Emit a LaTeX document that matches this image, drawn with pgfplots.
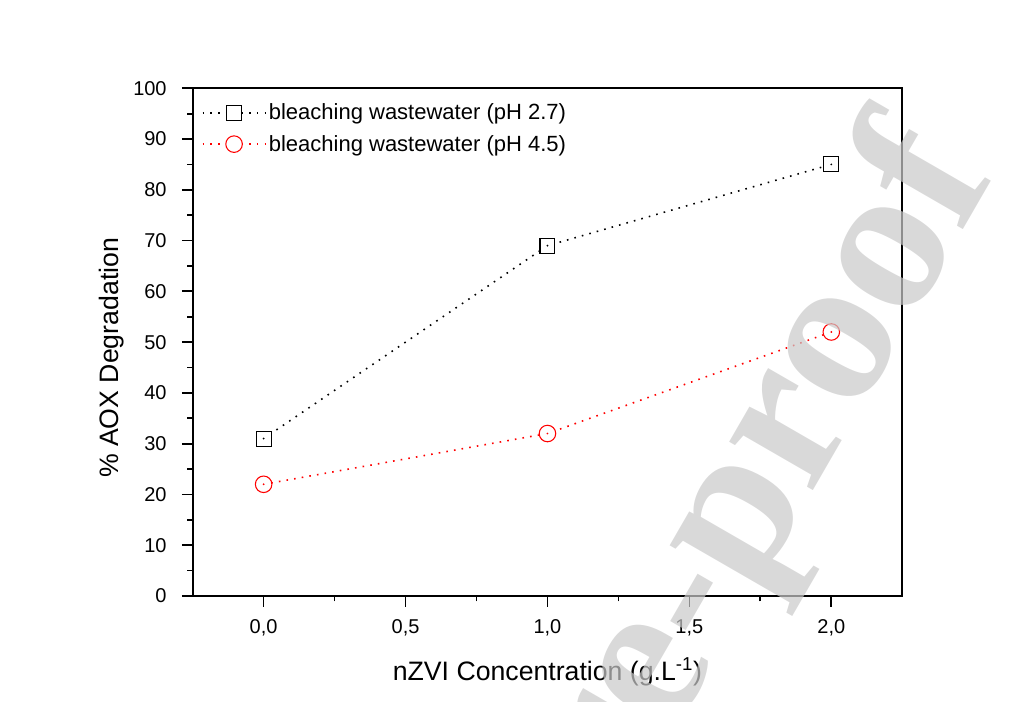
\documentclass[border=0pt]{standalone}
\usepackage{pgfplots}
\pgfplotsset{compat=1.18}
\usepackage{fontspec}
\setmainfont{Liberation Sans}
\newfontfamily\wmfont{Liberation Serif}
\definecolor{wm}{RGB}{201,201,201}
\begin{document}
\begin{tikzpicture}
\useasboundingbox (0,0) rectangle (774pt,526.5pt);
\begin{axis}[
  scale only axis,
  width=532.2pt, height=380.8pt,
  at={(144.5pt,79.5pt)}, anchor=south west,
  xmin=-0.25, xmax=2.25, ymin=0, ymax=100,
  xtick={0,0.5,1,1.5,2}, minor x tick num=1,
  ytick={0,10,...,100}, minor y tick num=1,
  xtick pos=bottom, ytick pos=left,
  tick align=outside,
  major tick length=8pt, minor tick length=4pt,
  every tick/.style={black, line width=1.3pt},
  axis line style={line width=1.5pt},
  /pgf/number format/assume math mode=true,
  xticklabel style={yshift=-6pt, /pgf/number format/.cd, use comma, fixed, fixed zerofill, precision=1},
  yticklabel style={xshift=-8pt},
  ticklabel style={font=\fontsize{15}{18}\selectfont},
  xlabel={nZVI Concentration (g.L\textsuperscript{-1})},
  ylabel={\% AOX Degradation},
  label style={font=\fontsize{20}{24}\selectfont},
  xlabel style={at={(axis description cs:0.5,-0.15)}, anchor=center},
  ylabel style={at={(axis description cs:-0.114,0.469)}, anchor=center},
  legend cell align=left,
  legend style={draw=none, fill=none, at={(rel axis cs:0.0127,0.975)}, anchor=north west,
    font=\fontsize{16.5}{19}\selectfont, row sep=6pt, inner sep=0pt},
  legend image code/.code={\draw[mark repeat=2,mark phase=2,#1] plot coordinates {(0pt,0pt) (23.5pt,0pt) (47pt,0pt)};},
]
\addplot[black, line width=1.2pt, dash pattern=on 1.2pt off 4.6pt, mark=square*, mark size=5.6pt,
  mark options={solid, line width=0.8pt, fill=white}] coordinates {(0,31) (1,69) (2,85)};
\addlegendentry{bleaching wastewater (pH 2.7)}
\addplot[red, line width=1.2pt, dash pattern=on 1.2pt off 4.6pt, mark=*, mark size=6.2pt,
  mark options={solid, line width=0.8pt, fill=white}] coordinates {(0,22) (1,32) (2,52)};
\addlegendentry{bleaching wastewater (pH 4.5)}
\addplot[black, only marks, mark=*, mark size=0.45pt, forget plot] coordinates {(0,31) (1,69) (2,85)};
\addplot[red, only marks, mark=*, mark size=0.45pt, forget plot] coordinates {(0,22) (1,32) (2,52)};
\end{axis}
\begin{scope}
\clip (0,0) rectangle (774pt,526.5pt);
\node[rotate=60, anchor=base east, inner sep=0pt, text=wm, opacity=0.7,
  font=\wmfont\bfseries\fontsize{158}{158}\selectfont] at (747pt,396pt) {Journal Pre-proof};
\end{scope}
\end{tikzpicture}
\end{document}
